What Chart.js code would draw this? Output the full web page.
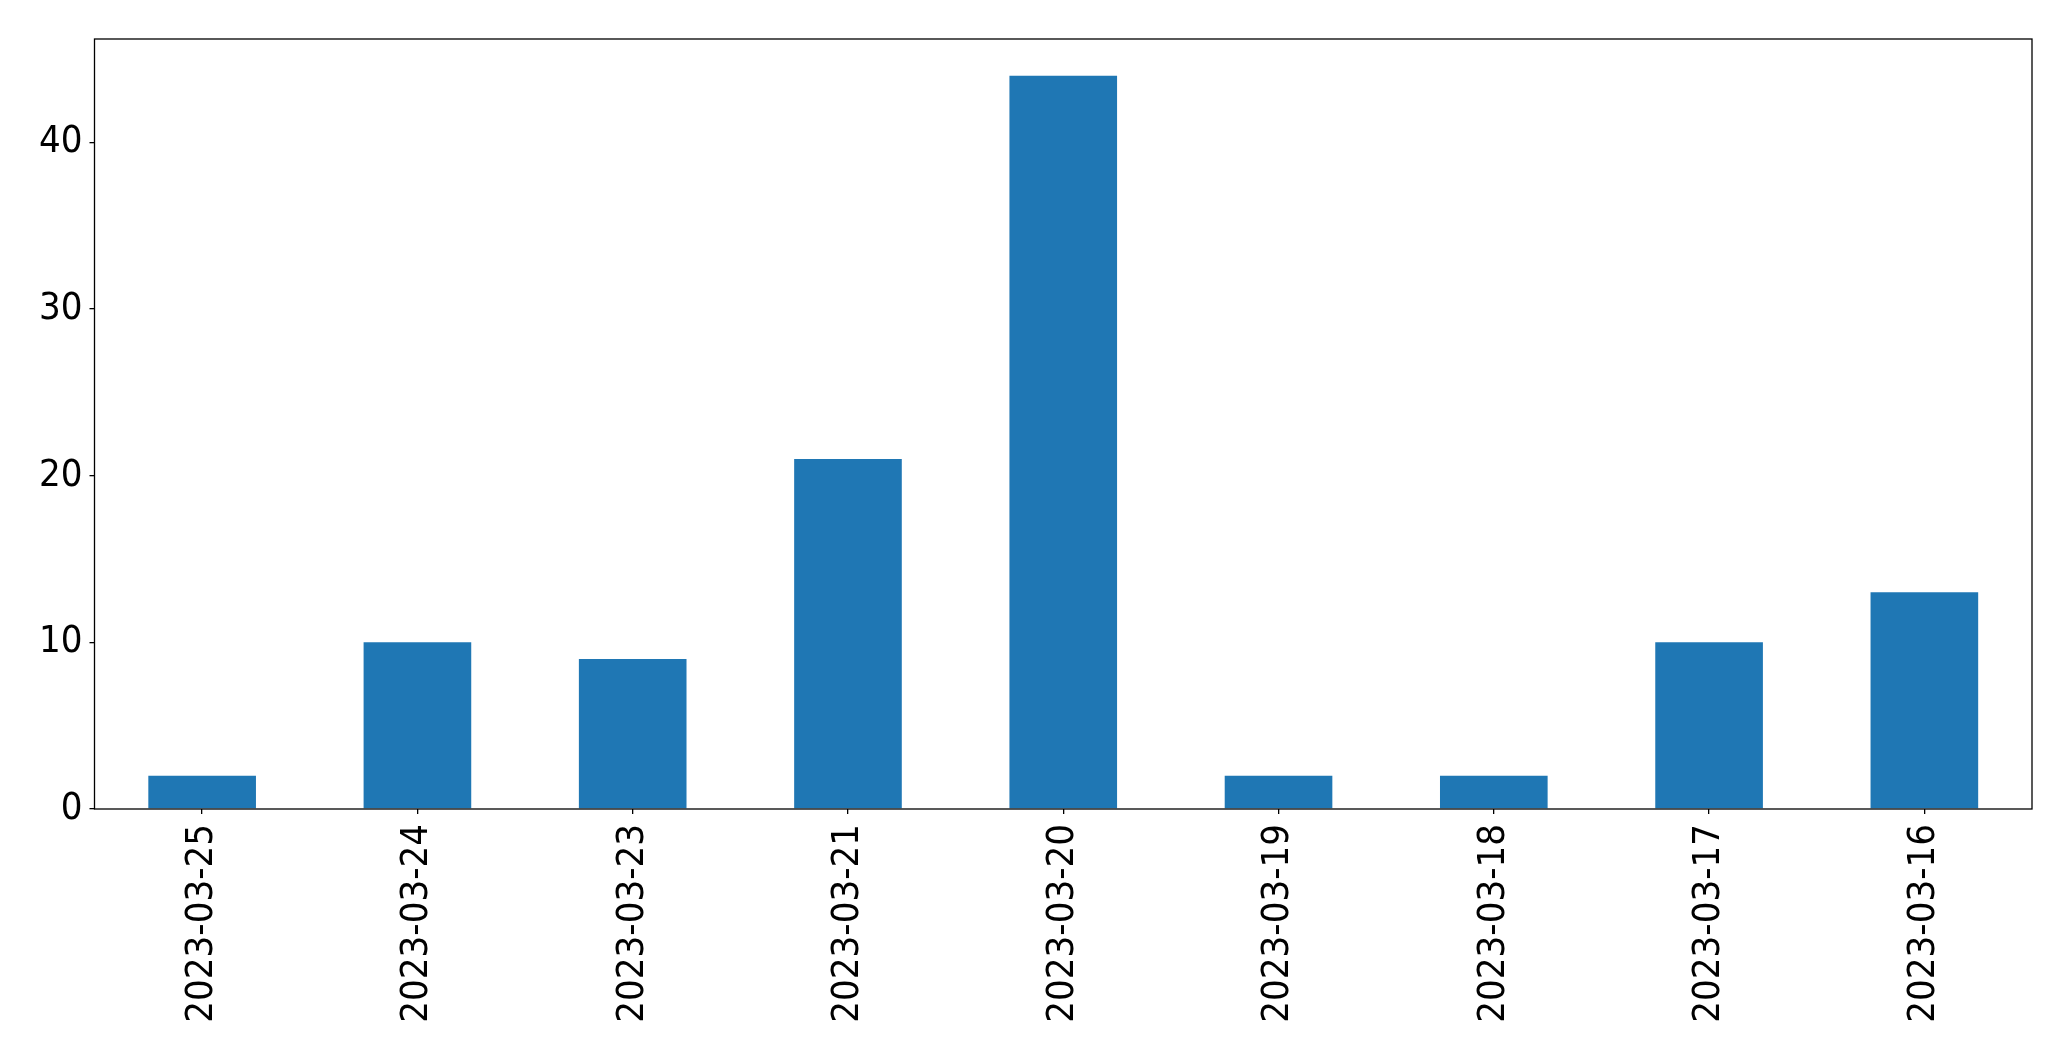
<!DOCTYPE html>
<html>
<head>
<meta charset="utf-8">
<script src="https://cdn.jsdelivr.net/npm/chart.js@4/dist/chart.umd.min.js"></script>
<style>
  html, body { margin: 0; padding: 0; background: #fff; }
  #wrap { width: 2071px; height: 1061px; }
</style>
</head>
<body>
<div id="wrap"><canvas id="barChart" width="2071" height="1061"></canvas></div>
<script>
// données
const dates = ['2023-03-25', '2023-03-24', '2023-03-23', '2023-03-21', '2023-03-20',
               '2023-03-19', '2023-03-18', '2023-03-17', '2023-03-16'];
const counts = [2, 10, 9, 21, 44, 2, 2, 10, 13];
const yTicks = [0, 10, 20, 30, 40];

// cadre noir autour de la zone de tracé
const frame = {
    id: 'frame',
    afterDraw(chart) {
        const a = chart.chartArea;
        const ctx = chart.ctx;
        ctx.save();
        ctx.strokeStyle = '#000';
        ctx.lineWidth = 1.3;
        ctx.strokeRect(a.left, a.top, a.right - a.left, a.bottom - a.top);
        ctx.restore();
    }
};

const font = { family: '"DejaVu Sans Condensed", "DejaVu Sans", sans-serif', size: 38 };

new Chart(document.getElementById('barChart'), {
    type: 'bar',
    data: {
        labels: dates,
        datasets: [{
            data: counts,
            backgroundColor: '#1f77b4',
            categoryPercentage: 1,
            barPercentage: 0.5
        }]
    },
    options: {
        responsive: false,
        animation: false,
        layout: { padding: { top: 39, right: 39, left: 0, bottom: 0 } },
        plugins: { legend: { display: false }, tooltip: { enabled: false } },
        scales: {
            x: {
                grid: { offset: false, drawOnChartArea: false, tickLength: 5, color: '#000', lineWidth: 1.3 },
                border: { display: false },
                ticks: { font: font, color: '#000', minRotation: 90, maxRotation: 90, padding: 10, autoSkip: false },
                afterFit(scale) { scale.height = 252; }
            },
            y: {
                min: 0,
                max: 46.2,
                grid: { drawOnChartArea: false, tickLength: 5, color: '#000', lineWidth: 1.3 },
                border: { display: false },
                ticks: { font: font, color: '#000', padding: 7 },
                afterBuildTicks(scale) {
                    scale.ticks = yTicks.map(v => ({ value: v }));
                },
                afterFit(scale) { scale.width = 94.5; }
            }
        }
    },
    plugins: [frame]
});
</script>
</body>
</html>
